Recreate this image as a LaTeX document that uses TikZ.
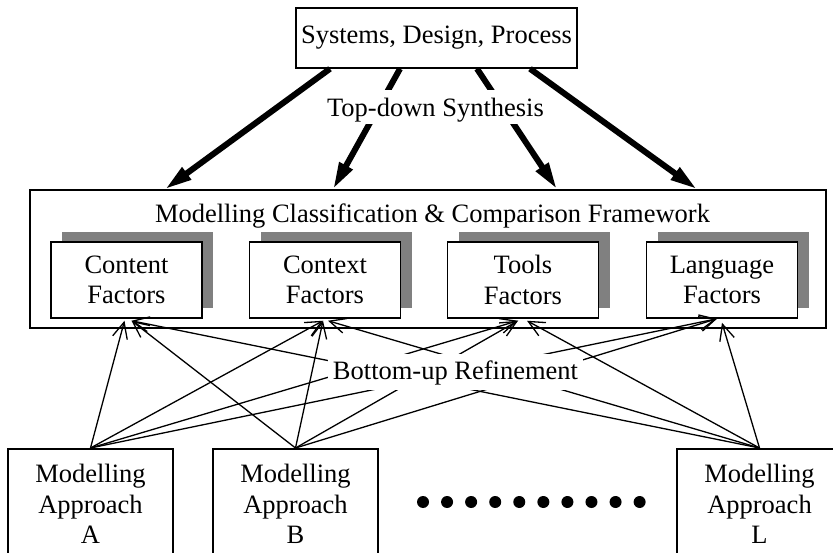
\documentclass[tikz,border=0pt]{standalone}
\usepackage{fontspec}
\setmainfont{Liberation Serif}
\usetikzlibrary{arrows.meta,shadows,calc}

\begin{document}
\begin{tikzpicture}[x=1pt,y=-1pt,
  lbl/.style={font=\fontsize{26.5}{30.5}\selectfont, align=center},
  box/.style={draw, line width=1.5pt, fill=white, inner sep=0pt, lbl},
  factor/.style={box, minimum width=151pt, minimum height=76pt,
    drop shadow={shadow xshift=11pt, shadow yshift=10pt, fill=black!50, opacity=1}},
  approach/.style={box, anchor=north, minimum width=165pt, minimum height=111pt},
  synth/.style={line width=6pt, -{Triangle[length=27pt,width=14pt]}},
  refine/.style={line width=1.3pt, -{Straight Barb[length=16pt,width=15pt]}},
  cutlabel/.style={lbl, fill=white, anchor=base}
]
\useasboundingbox (0,0) rectangle (833,553);
\clip (0,0) rectangle (833,553);

% top-level view
\node[box, minimum width=281pt, minimum height=60pt] (top) at (436.5,38) {Systems, Design, Process};

% framework with its four factor groups
\node[draw, line width=1.5pt, fill=white, minimum width=796pt, minimum height=138pt] (frame) at (428,259) {};
\node[lbl, anchor=base] (fwtitle) at (432.5,223) {Modelling Classification \& Comparison Framework};
\node[factor] (content) at (126.5,280) {Content\\Factors};
\node[factor] (context) at (325,280) {Context\\Factors};
\node[factor] (tools)   at (523,280) {Tools\\Factors};
\node[factor] (lang)    at (722,280) {Language\\Factors};

% top-down synthesis arrows
\draw[synth] ($(top.south)+(-106.5,0)$) -- ($(frame.north)+(-263,0)$);
\draw[synth] ($(top.south)+(-36.5,0)$)  -- ($(frame.north)+(-95,0)$);
\draw[synth] ($(top.south)+(40.5,0)$)   -- ($(frame.north)+(129,0)$);
\draw[synth] ($(top.south)+(93.5,0)$)   -- ($(frame.north)+(269,0)$);
\node[cutlabel, text height=26pt, text depth=5.6pt, inner xsep=3pt, inner ysep=1pt] (tdlabel) at (435.5,117) {Top-down Synthesis};

% modelling approaches
\node[approach] (ma) at (90.5,448) {Modelling\\Approach\\A};
\node[approach] (mb) at (295.5,448) {Modelling\\Approach\\B};
\node[approach] (ml) at (759.5,448) {Modelling\\Approach\\L};
\foreach \i in {0,...,9}
  \fill ({423+24.07*\i},502) circle[radius=6];

% bottom-up refinement arrows
\draw[refine] (ma.north) -- ($(content.south)+(-2,2)$);
\draw[refine] (mb.north) -- ($(content.south)+(5,2)$);
\draw[refine] (ml.north) -- ($(content.south)+(5,2)$);
\draw[refine] (ma.north) -- ($(context.south)+(-2,2)$);
\draw[refine] (mb.north) -- ($(context.south)+(-2,2)$);
\draw[refine] (ml.north) -- ($(context.south)+(3,2)$);
\draw[refine] (ma.north) -- ($(tools.south)+(-5,2)$);
\draw[refine] (mb.north) -- ($(tools.south)+(-5,2)$);
\draw[refine] (ml.north) -- ($(tools.south)+(4,2)$);
\draw[refine] (ma.north) -- ($(lang.south)+(-5,0)$);
\draw[refine] (mb.north) -- ($(lang.south)+(-5,0)$);
\draw[refine] (ml.north) -- ($(lang.south)+(0,4)$);
\node[cutlabel, text height=22pt, text depth=6pt, inner xsep=5pt, inner ysep=4pt] (bulabel) at (455.5,380) {Bottom-up Refinement};
\end{tikzpicture}
\end{document}
